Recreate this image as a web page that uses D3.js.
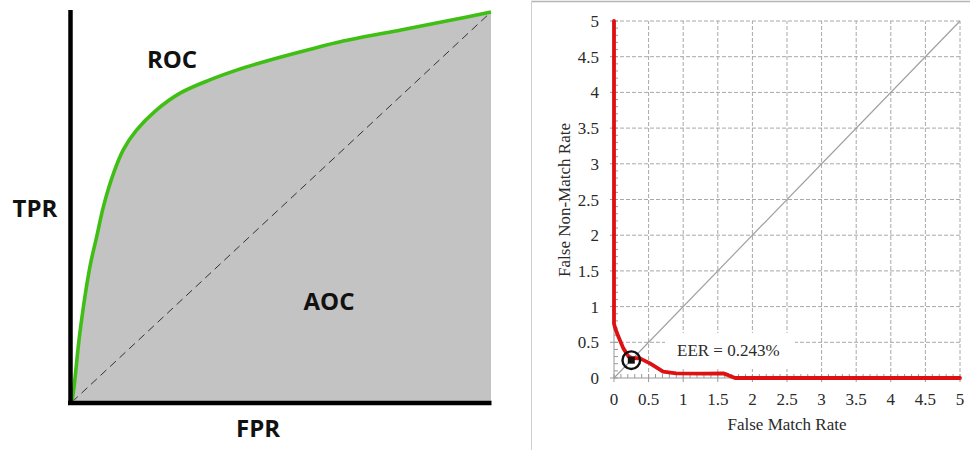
<!DOCTYPE html>
<html>
<head>
<meta charset="utf-8">
<script src="https://cdn.jsdelivr.net/npm/d3@7"></script>
<style>
  html, body { margin: 0; padding: 0; background: #fff; }
  svg { display: block; }
</style>
</head>
<body>
<svg id="chart" width="970" height="450"></svg>
<script>
// ---------- Left panel: ROC sketch ----------
const rocFPR = [0, 0.005, 0.019, 0.043, 0.059, 0.075, 0.099, 0.122, 0.154, 0.202, 0.258, 0.329, 0.393, 0.473, 0.56, 0.65, 0.785, 0.9, 1];
const rocTPR = [0, 0.04, 0.179, 0.348, 0.424, 0.501, 0.586, 0.646, 0.697, 0.749, 0.792, 0.826, 0.851, 0.877, 0.902, 0.926, 0.954, 0.978, 1];
const diagonal = [0, 1];
const leftLabels = ["ROC", "TPR", "AOC", "FPR"];

// ---------- Right panel: DET curve ----------
const detFMR  = [0, 0, 0.02, 0.063, 0.135, 0.21, 0.26, 0.375, 0.52, 0.71, 0.9, 1.3, 1.58, 1.65, 1.75, 5];
const detFNMR = [5, 0.76, 0.69, 0.58, 0.415, 0.30, 0.28, 0.275, 0.205, 0.09, 0.065, 0.06, 0.065, 0.04, 0, 0];
const tickValues = [0, 0.5, 1, 1.5, 2, 2.5, 3, 3.5, 4, 4.5, 5];
const tickLabels = ["0", "0.5", "1", "1.5", "2", "2.5", "3", "3.5", "4", "4.5", "5"];
const eerPoint = [0.25, 0.25];
const eerText = "EER = 0.243%";
const xTitle = "False Match Rate";
const yTitle = "False Non-Match Rate";

const svg = d3.select("#chart");

// ===== Left =====
{
  const x = d3.scaleLinear().domain([0, 1]).range([72, 491]);
  const y = d3.scaleLinear().domain([0, 1]).range([402, 12]);
  const pts = rocFPR.map((v, i) => [v, rocTPR[i]]);
  const g = svg.append("g");
  const curve = d3.curveCatmullRom.alpha(0.5);

  const area = d3.area().x(d => x(d[0])).y0(y(0)).y1(d => y(d[1])).curve(curve);
  g.append("path").datum(pts).attr("d", area).attr("fill", "#c3c3c3");

  g.append("line")
    .attr("x1", x(diagonal[0])).attr("y1", y(diagonal[0]))
    .attr("x2", x(diagonal[1])).attr("y2", y(diagonal[1]))
    .attr("stroke", "#333").attr("stroke-width", 1).attr("stroke-dasharray", "8,5");

  const line = d3.line().x(d => x(d[0])).y(d => y(d[1])).curve(curve);
  g.append("path").datum(pts).attr("d", line)
    .attr("fill", "none").attr("stroke", "#3fbf14").attr("stroke-width", 3.6);

  // axes
  g.append("line").attr("x1", 70.5).attr("x2", 70.5).attr("y1", 10).attr("y2", 405)
    .attr("stroke", "#000").attr("stroke-width", 4.5);
  g.append("line").attr("x1", 68).attr("x2", 491.5).attr("y1", 403).attr("y2", 403)
    .attr("stroke", "#000").attr("stroke-width", 4.5);

  const font = "'Open Sans', sans-serif";
  const labPos = [[172, 68], [35, 217], [329, 310], [258, 437]];
  leftLabels.forEach((t, i) => {
    g.append("text").attr("x", labPos[i][0]).attr("y", labPos[i][1])
      .attr("text-anchor", "middle").attr("font-family", font)
      .attr("font-weight", "bold").attr("font-size", 24).attr("fill", "#111").text(t);
  });
}

// ===== Right =====
{
  const g = svg.append("g");
  // frame lines of the screenshot
  g.append("line").attr("x1", 531).attr("x2", 970).attr("y1", 1.5).attr("y2", 1.5)
    .attr("stroke", "#b5b5b5").attr("stroke-width", 1.5);
  g.append("line").attr("x1", 531.5).attr("x2", 531.5).attr("y1", 1).attr("y2", 450)
    .attr("stroke", "#d0d0d0").attr("stroke-width", 1);

  const x = d3.scaleLinear().domain([0, 5]).range([614, 960]);
  const y = d3.scaleLinear().domain([0, 5]).range([378, 21]);
  const serif = "'Liberation Serif', 'Times New Roman', serif";
  const textCol = "#2a2a2a";

  // grid
  g.selectAll(".gx").data(tickValues.slice(1)).enter().append("line")
    .attr("x1", d => x(d)).attr("x2", d => x(d)).attr("y1", y(0)).attr("y2", y(5))
    .attr("stroke", "#a8a8a8").attr("stroke-width", 1).attr("stroke-dasharray", "4,2");
  g.selectAll(".gy").data(tickValues.slice(1)).enter().append("line")
    .attr("x1", x(0)).attr("x2", x(5)).attr("y1", d => y(d)).attr("y2", d => y(d))
    .attr("stroke", "#a8a8a8").attr("stroke-width", 1).attr("stroke-dasharray", "4,2");

  // axes lines
  g.append("line").attr("x1", x(0)).attr("x2", x(5)).attr("y1", y(0)).attr("y2", y(0))
    .attr("stroke", "#999").attr("stroke-width", 1);
  g.append("line").attr("x1", x(0)).attr("x2", x(0)).attr("y1", y(0)).attr("y2", y(5))
    .attr("stroke", "#999").attr("stroke-width", 1);

  // minor ticks
  const minor = d3.range(0, 50).map(i => i / 10).filter((v, i) => i % 5 !== 0);
  g.selectAll(".mx").data(minor).enter().append("line")
    .attr("x1", d => x(d)).attr("x2", d => x(d)).attr("y1", y(0)).attr("y2", y(0) - 4)
    .attr("stroke", "#999").attr("stroke-width", 1);
  g.selectAll(".my").data(minor).enter().append("line")
    .attr("x1", x(0)).attr("x2", x(0) + 4).attr("y1", d => y(d)).attr("y2", d => y(d))
    .attr("stroke", "#999").attr("stroke-width", 1);
  // major ticks
  g.selectAll(".Mx").data(tickValues).enter().append("line")
    .attr("x1", d => x(d)).attr("x2", d => x(d)).attr("y1", y(0) + 4).attr("y2", y(0) - 4)
    .attr("stroke", "#999").attr("stroke-width", 1);
  g.selectAll(".My").data(tickValues).enter().append("line")
    .attr("x1", x(0) - 4).attr("x2", x(0) + 4).attr("y1", d => y(d)).attr("y2", d => y(d))
    .attr("stroke", "#999").attr("stroke-width", 1);

  // diagonal
  g.append("line").attr("x1", x(0)).attr("y1", y(0)).attr("x2", x(5)).attr("y2", y(5))
    .attr("stroke", "#a0a0a0").attr("stroke-width", 1.2);

  // EER label box
  g.append("rect").attr("x", 665).attr("y", 333).attr("width", 130).attr("height", 36).attr("fill", "#fff");
  g.append("text").attr("x", 677).attr("y", 356).attr("font-family", serif)
    .attr("font-size", 17).attr("fill", textCol).text(eerText);

  // curve
  const pts = detFMR.map((v, i) => [v, detFNMR[i]]);
  g.append("path").datum(pts)
    .attr("d", d3.line().x(d => x(d[0])).y(d => y(d[1])).curve(d3.curveLinear))
    .attr("fill", "none").attr("stroke", "#dd1111").attr("stroke-width", 3.8)
    .attr("stroke-linejoin", "round").attr("stroke-linecap", "round");

  // EER marker
  g.append("circle").attr("cx", x(eerPoint[0])).attr("cy", y(eerPoint[1])).attr("r", 8.8)
    .attr("fill", "none").attr("stroke", "#111").attr("stroke-width", 2.4);
  g.append("rect").attr("x", x(eerPoint[0]) - 3.5).attr("y", y(eerPoint[1]) - 3.5)
    .attr("width", 7).attr("height", 7).attr("fill", "#111");

  // tick labels
  g.selectAll(".lx").data(tickValues).enter().append("text")
    .attr("x", d => x(d)).attr("y", 405).attr("text-anchor", "middle")
    .attr("font-family", serif).attr("font-size", 17).attr("fill", textCol)
    .text((d, i) => tickLabels[i]);
  g.selectAll(".ly").data(tickValues).enter().append("text")
    .attr("x", 599).attr("y", d => y(d) + 6).attr("text-anchor", "end")
    .attr("font-family", serif).attr("font-size", 17).attr("fill", textCol)
    .text((d, i) => tickLabels[i]);

  // titles
  g.append("text").attr("x", x(2.5)).attr("y", 430).attr("text-anchor", "middle")
    .attr("font-family", serif).attr("font-size", 17).attr("fill", textCol).text(xTitle);
  g.append("text").attr("transform", "translate(570,200) rotate(-90)").attr("text-anchor", "middle")
    .attr("font-family", serif).attr("font-size", 17).attr("fill", textCol).text(yTitle);
}
</script>
</body>
</html>
